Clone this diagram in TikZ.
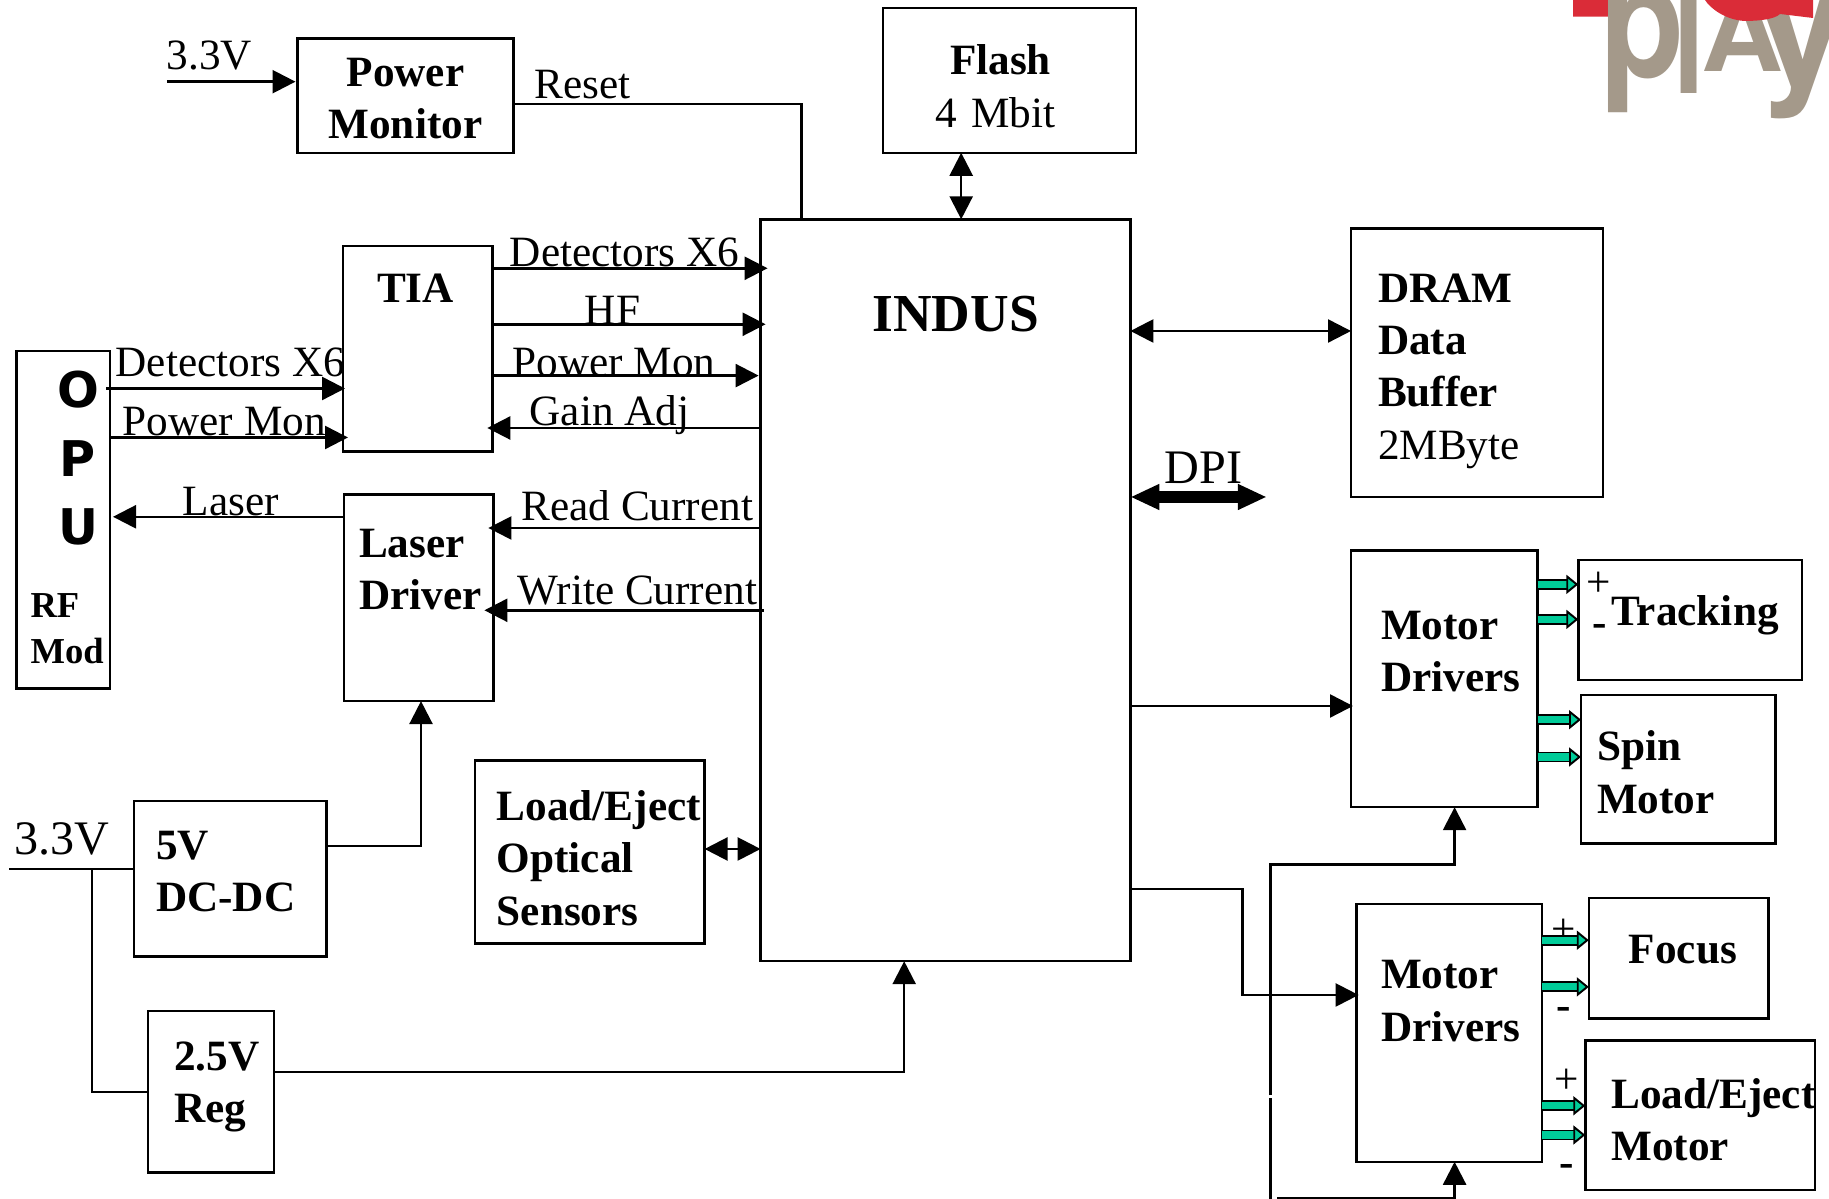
\documentclass[tikz,border=0pt]{standalone}
\usepackage{fontspec}
\setmainfont{Liberation Serif}
\newfontfamily\opufont{DejaVu Sans}
\newfontfamily\logofont{TeX Gyre Heros}
\usetikzlibrary{arrows.meta,positioning}
\definecolor{logotan}{RGB}{164,153,138}
\definecolor{logored}{RGB}{218,44,56}
\definecolor{drvgreen}{RGB}{0,204,153}

\begin{document}
\begin{tikzpicture}[->,>={Triangle[length=2.3mm,width=2.3mm]},line width=0.7pt,
                    blk/.style n args={4}{komp,minimum width=#1,minimum height=#2,
                    inner xsep=#3,text width=\dimexpr#1-2\dimexpr#3\relax\relax,
                    text height=#4,text depth=\dimexpr#2-#4\relax}]
\tikzstyle{komp}=[rectangle,draw=black,line width=0.7pt,outer sep=0pt,inner ysep=0pt,align=left,font=\fontsize{12.3}{14.9}\selectfont\bfseries]
\tikzstyle{lbl}=[anchor=base,inner sep=0pt,font=\fontsize{12.3}{14.9}\selectfont]
\tikzstyle{biglbl}=[anchor=base,inner sep=0pt,font=\fontsize{13.7}{15}\selectfont]
\tikzstyle{sgn}=[inner sep=0pt,font=\fontsize{12.3}{14.9}\selectfont]
\tikzstyle{opuletter}=[inner sep=0pt,font=\fontsize{14}{16}\selectfont\opufont\bfseries]
\tikzstyle{logo}=[anchor=base west,inner sep=0pt,text=logotan,transform shape,font=\fontsize{38}{40}\selectfont\logofont\bfseries]
\tikzstyle{logobig}=[logo,font=\fontsize{46}{48}\selectfont\logofont\bfseries]
\tikzstyle{dpibus}=[<->,>={Triangle[length=2.9mm,width=2.4mm]},line width=3.2pt]
\tikzstyle{garrow}=[-{Triangle[length=1.2mm,width=1.9mm,fill=drvgreen,line width=0.55pt]},draw=black,line width=0.55pt,double=drvgreen,double distance=2pt]
\useasboundingbox (0,0) rectangle (18.29,-11.99);

\begin{scope}
\clip (0,0) rectangle (18.29,-11.99);
\fill[logored] (15.73,0) -- (15.73,-0.167) -- (16.1,-0.167) .. controls (16.17,-0.16) and (16.2,-0.05) .. (16.2,0) -- cycle;
\node[logobig,xscale=0.85] (logo_p) at (15.99,-0.78) {p};
\node[logo,xscale=0.85] (logo_l) at (16.72,-0.94) {l};
\node[logo,xscale=0.85,yscale=0.8] (logo_a) at (17.0,-0.72) {A};
\node[logobig] (logo_y) at (17.56,-0.84) {y};
\fill[logored] (17.05,0) .. controls (17.1,-0.08) and (17.25,-0.2) .. (17.45,-0.21) .. controls (17.6,-0.21) and (17.75,-0.19) .. (17.8,-0.14) -- (18.13,-0.18) -- (18.13,0) -- cycle;
\end{scope}

\node[blk={3.698cm}{7.419cm}{1.12cm}{1.12cm},font=\fontsize{15.2}{18}\selectfont\bfseries,anchor=north west] (indus) at (7.606,-2.193) {INDUS};
\node[blk={2.532cm}{1.446cm}{0.52cm}{0.66cm}] (flash) [above right=0.665cm and 1.224cm of indus.north west] {\hspace*{0.15cm}Flash\\[0.4pt]\mdseries 4 Mbit};
\node[blk={2.158cm}{1.143cm}{0cm}{0.48cm},align=center] (power_monitor) [above left=0.665cm and 2.473cm of indus.north west] {Power\\Monitor};
\node[blk={1.493cm}{2.054cm}{0.34cm}{0.57cm}] (tia) [below left=0.267cm and 2.683cm of indus.north west] {TIA};
\node[blk={0.935cm}{3.375cm}{0.14cm}{2.67cm},font=\fontsize{10.4}{12.9}\selectfont\bfseries] (opu) [below left=1.05cm and 2.33cm of tia.north west] {RF\\Mod};
\node[blk={1.494cm}{2.065cm}{0.15cm}{0.63cm}] (laser_driver) [below right=0.432cm and 0.01cm of tia.south west] {Laser\\Driver};
\node[blk={1.926cm}{1.555cm}{0.22cm}{0.58cm}] (dcdc) [below left=1cm and 0.174cm of laser_driver.south west] {5V\\DC-DC};
\node[blk={1.26cm}{1.613cm}{0.26cm}{0.59cm}] (reg) [below right=0.545cm and 0.14cm of dcdc.south west] {2.5V\\Reg};
\node[blk={2.298cm}{1.831cm}{0.22cm}{0.6cm}] (sensors) [below left=5.413cm and 0.56cm of indus.north west] {Load/Eject\\Optical\\Sensors};
\node[blk={2.52cm}{2.684cm}{0.27cm}{0.735cm}] (dram) [below right=0.093cm and 2.206cm of indus.north east] {DRAM\\Data\\Buffer\\\mdseries 2MByte};
\node[blk={1.865cm}{2.566cm}{0.3cm}{0.89cm}] (drivers1) [below right=0.536cm and 0cm of dram.south west] {Motor\\Drivers};
\node[blk={2.239cm}{1.2cm}{0.33cm}{0.66cm}] (tracking) [below right=0.094cm and 0.408cm of drivers1.north east] {Tracking};
\node[blk={1.943cm}{1.484cm}{0.16cm}{0.66cm}] (spin) [below right=0.15cm and 0.027cm of tracking.south west] {Spin\\Motor};
\node[blk={1.855cm}{2.578cm}{0.245cm}{0.85cm}] (drivers2) [below right=0.968cm and 0.056cm of drivers1.south west] {Motor\\Drivers};
\node[blk={1.796cm}{1.202cm}{0.4cm}{0.65cm}] (focus) [below right=-0.058cm and 0.467cm of drivers2.north east] {Focus};
\node[blk={2.297cm}{1.495cm}{0.26cm}{0.68cm}] (load_motor) [below right=0.221cm and -0.035cm of focus.south west] {Load/Eject\\Motor};

\node[opuletter] (opu_o) at ([xshift=0.62cm,yshift=-0.39cm]opu.north west) {O};
\node[opuletter] (opu_p) at ([xshift=0.61cm,yshift=-1.08cm]opu.north west) {P};
\node[opuletter] (opu_u) at ([xshift=0.62cm,yshift=-1.76cm]opu.north west) {U};

\node[sgn] (tracking_plus) at ([xshift=0.2cm,yshift=-0.24cm]tracking.north west) {+};
\node[sgn] (tracking_minus) at ([xshift=0.21cm,yshift=-0.71cm]tracking.north west) {\textbf{-}};
\node[sgn] (focus_plus) at ([xshift=0.22cm,yshift=-0.27cm]drivers2.north east) {+};
\node[sgn] (focus_minus) at ([xshift=0.22cm,yshift=-1.1cm]drivers2.north east) {\textbf{-}};
\node[sgn] (motor_plus) at ([xshift=0.245cm,yshift=-1.775cm]drivers2.north east) {+};
\node[sgn] (motor_minus) at ([xshift=0.245cm,yshift=-2.67cm]drivers2.north east) {\textbf{-}};

\coordinate (pm_src) at ([xshift=-1.307cm,yshift=-0.432cm]power_monitor.north west);
\coordinate (pm_in) at ([yshift=-0.432cm]power_monitor.north west);
\coordinate (pm_out) at ([yshift=-0.653cm]power_monitor.north east);
\coordinate (reset_in) at ([xshift=0.408cm]indus.north west);
\coordinate (flash_port) at ([xshift=2.006cm]indus.north west);
\coordinate (in_det) at ([xshift=0.07cm,yshift=-0.49cm]indus.north west);
\coordinate (in_hf) at ([xshift=0.05cm,yshift=-1.05cm]indus.north west);
\coordinate (in_pow) at ([xshift=-0.02cm,yshift=-1.563cm]indus.north west);
\coordinate (in_gain) at ([yshift=-2.087cm]indus.north west);
\coordinate (in_read) at ([yshift=-3.087cm]indus.north west);
\coordinate (in_write) at ([xshift=0.03cm,yshift=-3.91cm]indus.north west);
\coordinate (tia_det) at ([xshift=0.02cm,yshift=-1.425cm]tia.north west);
\coordinate (tia_pow) at ([xshift=0.05cm,yshift=-1.915cm]tia.north west);
\coordinate (opu_las) at ([xshift=0.03cm,yshift=-1.658cm]opu.north east);
\coordinate (dram_port) at ([yshift=-1.117cm]indus.north east);
\coordinate (dpi_l) at ([yshift=-2.777cm]indus.north east);
\coordinate (dpi_r) at ([xshift=1.364cm]dpi_l);
\coordinate (drv1_in) at ([xshift=0.02cm,yshift=-1.554cm]drivers1.north west);
\coordinate (drv2_out) at ([yshift=-6.696cm]indus.north east);
\coordinate (drv2_turn) at ([xshift=1.119cm]drv2_out);
\coordinate (drv2_in) at ([xshift=0.02cm,yshift=-0.91cm]drivers2.north west);
\coordinate (drv1_ctl) at ([xshift=1.036cm]drivers1.south west);
\coordinate (drv1_bus) at ([yshift=-0.572cm]drv1_ctl);
\coordinate (bus_top) at ([xshift=-1.843cm]drv1_bus);
\coordinate (bus_gap1) at ([yshift=-2.31cm]bus_top);
\coordinate (bus_gap2) at ([yshift=-2.34cm]bus_top);
\coordinate (bus_end) at ([yshift=-3.35cm]bus_top);
\coordinate (drv2_ctl) at ([xshift=0.98cm]drivers2.south west);
\coordinate (drv2_bus) at ([yshift=-0.36cm]drv2_ctl);
\coordinate (drv2_src) at ([xshift=-1.773cm]drv2_bus);
\coordinate (laser_pwr) at ([xshift=0.77cm]laser_driver.south west);
\coordinate (dcdc_out) at ([yshift=-0.447cm]dcdc.north east);
\coordinate (v33_src) at ([xshift=-1.247cm,yshift=-0.68cm]dcdc.north west);
\coordinate (v33_tap) at ([xshift=0.829cm]v33_src);
\coordinate (reg_in) at ([yshift=-0.81cm]reg.north west);
\coordinate (reg_out) at ([yshift=-0.61cm]reg.north east);
\coordinate (indus_reg) at ([xshift=1.436cm]indus.south west);
\coordinate (sensor_port) at ([yshift=-0.884cm]sensors.north east);

\draw[->] (pm_src) -- node[lbl,pos=0.33,yshift=0.125cm] (lbl_33a) {3.3V} ([xshift=-0.02cm]pm_in);
\draw[-] (pm_out) -- node[lbl,pos=0.24,yshift=0.05cm] (lbl_reset) {Reset} (pm_out -| reset_in) -- (reset_in);
\draw[<->] (flash_port |- flash.south) -- (flash_port);
\draw[->] (tia.east |- in_det) -- node[lbl,pos=0.48,yshift=0.02cm] (lbl_det) {Detectors X6} (in_det);
\draw[->] (tia.east |- in_hf) -- node[lbl,pos=0.44] (lbl_hf) {HF} (in_hf);
\draw[->] (tia.east |- in_pow) -- node[lbl,pos=0.457,yshift=-0.01cm] (lbl_pow) {Power Mon} (in_pow);
\draw[->] (in_gain) -- node[lbl,pos=0.553,yshift=0.02cm] (lbl_gain) {Gain Adj} ([xshift=-0.05cm]tia.east |- in_gain);
\draw[->] (in_read) -- node[lbl,pos=0.453,yshift=0.07cm] (lbl_read) {Read Current} ([xshift=-0.05cm]laser_driver.east |- in_read);
\draw[->] (in_write) -- node[lbl,pos=0.452,yshift=0.06cm] (lbl_write) {Write Current} ([xshift=-0.09cm]laser_driver.east |- in_write);
\draw[->] ([xshift=-0.04cm]opu.east |- tia_det) -- node[lbl,pos=0.52,yshift=0.12cm] (lbl_det2) {Detectors X6} (tia_det);
\draw[->] (opu.east |- tia_pow) -- node[lbl,pos=0.48,yshift=0.02cm] (lbl_pow2) {Power Mon} (tia_pow);
\draw[->] (laser_driver.west |- opu_las) -- node[lbl,pos=0.49,yshift=0.01cm] (lbl_laser) {Laser} (opu_las);
\draw[<->] (dram_port) -- (dram_port -| dram.west);
\draw[dpibus] (dpi_l) -- node[biglbl,pos=0.535,yshift=0.135cm] (lbl_dpi) {DPI} (dpi_r);
\draw[->] (indus.east |- drv1_in) -- (drv1_in);
\draw[->] (drv2_out) -- (drv2_turn) -- (drv2_turn |- drv2_in) -- (drv2_in);
\draw[->] (bus_gap1) -- (bus_top) -- (drv1_bus) -- (drv1_ctl);
\draw[-] (bus_gap2) -- (bus_end);
\draw[->] (drv2_src) -- (drv2_bus) -- (drv2_ctl);
\draw[->] (dcdc_out) -- (dcdc_out -| laser_pwr) -- (laser_pwr);
\draw[-] (v33_src) -- node[biglbl,pos=0.42,yshift=0.15cm] (lbl_33b) {3.3V} (v33_src -| dcdc.west);
\draw[-] (v33_tap) -- (v33_tap |- reg_in) -- (reg_in);
\draw[->] (reg_out) -- (reg_out -| indus_reg) -- (indus_reg);
\draw[<->] (sensor_port) -- (sensor_port -| indus.west);

\foreach \target/\port/\ofs in {tracking/tr1/0.244,tracking/tr2/0.594,spin/sp1/0.247,spin/sp2/0.62,focus/fo1/0.42,focus/fo2/0.887,load_motor/lo1/0.653,load_motor/lo2/0.945}
{
  \coordinate (\port) at ([yshift=-\ofs cm]\target.north west);
}
\draw[garrow] (drivers1.east |- tr1) -- (tr1);
\draw[garrow] (drivers1.east |- tr2) -- (tr2);
\draw[garrow] (drivers1.east |- sp1) -- (sp1);
\draw[garrow] (drivers1.east |- sp2) -- (sp2);
\draw[garrow] (drivers2.east |- fo1) -- (fo1);
\draw[garrow] (drivers2.east |- fo2) -- (fo2);
\draw[garrow] (drivers2.east |- lo1) -- (lo1);
\draw[garrow] (drivers2.east |- lo2) -- (lo2);
\end{tikzpicture}
\end{document}
